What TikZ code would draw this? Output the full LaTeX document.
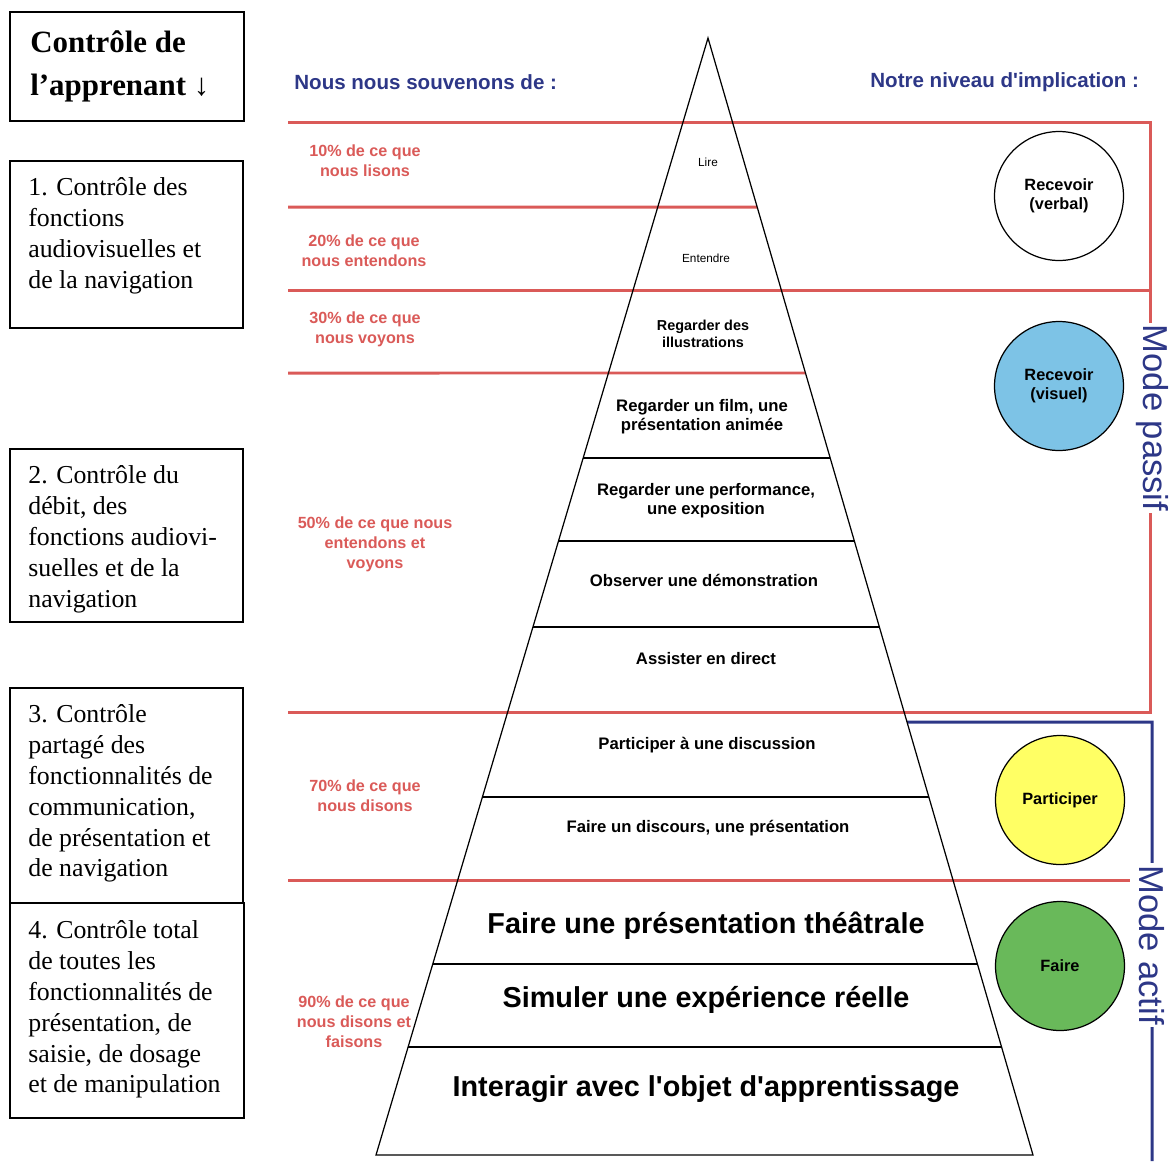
\documentclass[tikz,border=0pt]{standalone}
\usepackage{fontspec}
\setmainfont{Liberation Serif}
\setsansfont{Liberation Sans}
\usetikzlibrary{calc}
\definecolor{souvred}{RGB}{218,90,88}
\definecolor{headblue}{RGB}{45,55,135}
\definecolor{visblue}{RGB}{125,195,230}
\definecolor{partyel}{RGB}{255,255,100}
\definecolor{fairegreen}{RGB}{105,185,90}
\tikzset{
  ctrlbox/.style={draw,line width=0.8pt},
  ctrltext/.style={anchor=north west,align=left,inner sep=0pt,font=\fontsize{14.7}{17.6}\selectfont},
  colhead/.style={anchor=west,text=headblue,inner sep=0pt,font=\sffamily\bfseries\fontsize{11.7}{14}\selectfont},
  pct/.style={text=souvred,align=center,inner sep=0pt,font=\sffamily\bfseries\fontsize{9.2}{11.3}\selectfont},
  lvl/.style={align=center,inner sep=0pt,font=\sffamily\bfseries\fontsize{9.5}{10.8}\selectfont},
  biglvl/.style={inner sep=0pt,font=\sffamily\bfseries\fontsize{16.4}{19}\selectfont},
  rolecirc/.style={circle,draw,line width=0.7pt,minimum size=2.58cm,inner sep=1pt,align=center,font=\sffamily\bfseries\fontsize{9.3}{11}\selectfont},
  modelabel/.style={rotate=-90,fill=white,inner sep=1pt,text=headblue,font=\sffamily\fontsize{19.7}{22}\selectfont},
  redsep/.style={souvred,line width=1.7pt},
  bluesep/.style={headblue,line width=1.7pt},
  pyr/.style={line width=0.7pt}
}

\begin{document}
\begin{tikzpicture}[x=0.02cm,y=-0.02cm]
\useasboundingbox (0,0) rectangle (1171,1161);

\coordinate (top) at (708,38);
\coordinate (bl) at (376,1155);
\coordinate (br) at (1033,1155);

% bandes rouges
\draw[redsep] (288,122) -- (1150,122) -- (1150,712) -- (288,712);
\draw[redsep] (288,207) -- ($(top)!0.1513!(br)$);
\draw[redsep] (288,290) -- (1150,290);
\draw[redsep] (288,373) -- ($(top)!0.2999!(br)$);
\draw[redsep] (288,880) -- (1130,880);
\draw[bluesep] ($(top)!0.6124!(br)$) -- (1152,722) -- (1152,1161);

% pyramide
\draw[pyr] (bl) -- (top) -- (br) -- cycle;
\foreach \yy in {458,541,627,797,964,1047}
  \draw[pyr] ($(top)!{(\yy-38)/1117}!(bl)$) -- ($(top)!{(\yy-38)/1117}!(br)$);

\node[modelabel] (passif) at (1152,418) {Mode passif};
\node[modelabel] (actif) at (1152,945) {Mode actif};

% colonne de gauche
\draw[ctrlbox] (10,12) rectangle (244,121);
\draw[ctrlbox] (10,161) rectangle (243,328);
\draw[ctrlbox] (10,449) rectangle (243,622);
\draw[ctrlbox] (10,688) rectangle (243,903);
\draw[ctrlbox] (10,903) rectangle (244,1118);
\node[anchor=north west,align=left,inner sep=0pt,font=\bfseries\fontsize{17.6}{24.4}\selectfont] (titre) at (30,30) {Contrôle de\\l’apprenant ↓};
\node[ctrltext] (ctrlA) at (28,177) {1. Contrôle des\\fonctions\\audiovisuelles et\\de la navigation};
\node[ctrltext] (ctrlB) at (28,465) {2. Contrôle du\\débit, des\\fonctions audiovi-\\suelles et de la\\navigation};
\node[ctrltext] (ctrlC) at (28,704) {3. Contrôle\\partagé des\\fonctionnalités de\\communication,\\de présentation et\\de navigation};
\node[ctrltext] (ctrlD) at (28,920) {4. Contrôle total\\de toutes les\\fonctionnalités de\\présentation, de\\saisie, de dosage\\et de manipulation};

\node[colhead] (souv) at (294,82) {Nous nous souvenons de :};
\node[colhead] (impl) at (870,82) {Notre niveau d\textquotesingle implication :};

% pourcentages
\node[pct] (p10) at (365,161) {10\% de ce que\\nous lisons};
\node[pct] (p20) at (364,251) {20\% de ce que\\nous entendons};
\node[pct] (p30) at (365,329) {30\% de ce que\\nous voyons};
\node[pct] (p50) at (375,544) {50\% de ce que nous\\entendons et\\voyons};
\node[pct] (p70) at (365,796) {70\% de ce que\\nous disons};
\node[pct] (p90) at (354,1022) {90\% de ce que\\nous disons et\\faisons};

% niveaux
\node[lvl,font=\sffamily\fontsize{6.7}{8}\selectfont] (lire) at (708,162) {Lire};
\node[lvl,font=\sffamily\fontsize{6.7}{8}\selectfont] (entendre) at (706,258) {Entendre};
\node[lvl,font=\sffamily\bfseries\fontsize{8.2}{9.4}\selectfont] (illus) at (703,334) {Regarder des\\illustrations};
\node[lvl] (film) at (702,417) {Regarder un film, une\\présentation animée};
\node[lvl] (perf) at (706,501) {Regarder une performance,\\une exposition};
\node[lvl] (demo) at (704,580) {Observer une démonstration};
\node[lvl] (direct) at (706,659) {Assister en direct};
\node[lvl] (discu) at (707,745) {Participer à une discussion};
\node[lvl] (disc) at (708,828) {Faire un discours, une présentation};
\node[biglvl] (theatre) at (706,926) {Faire une présentation théâtrale};
\node[biglvl] (simul) at (706,1000) {Simuler une expérience réelle};
\node[biglvl] (objet) at (706,1089) {Interagir avec l\textquotesingle objet d\textquotesingle apprentissage};

% implication
\node[rolecirc,fill=white] (verbal) at (1059,196) {Recevoir\\(verbal)};
\node[rolecirc,fill=visblue] (visuel) at (1059,386) {Recevoir\\(visuel)};
\node[rolecirc,fill=partyel] (partic) at (1060,800) {Participer};
\node[rolecirc,fill=fairegreen] (faire) at (1060,966) {Faire};
\end{tikzpicture}
\end{document}
